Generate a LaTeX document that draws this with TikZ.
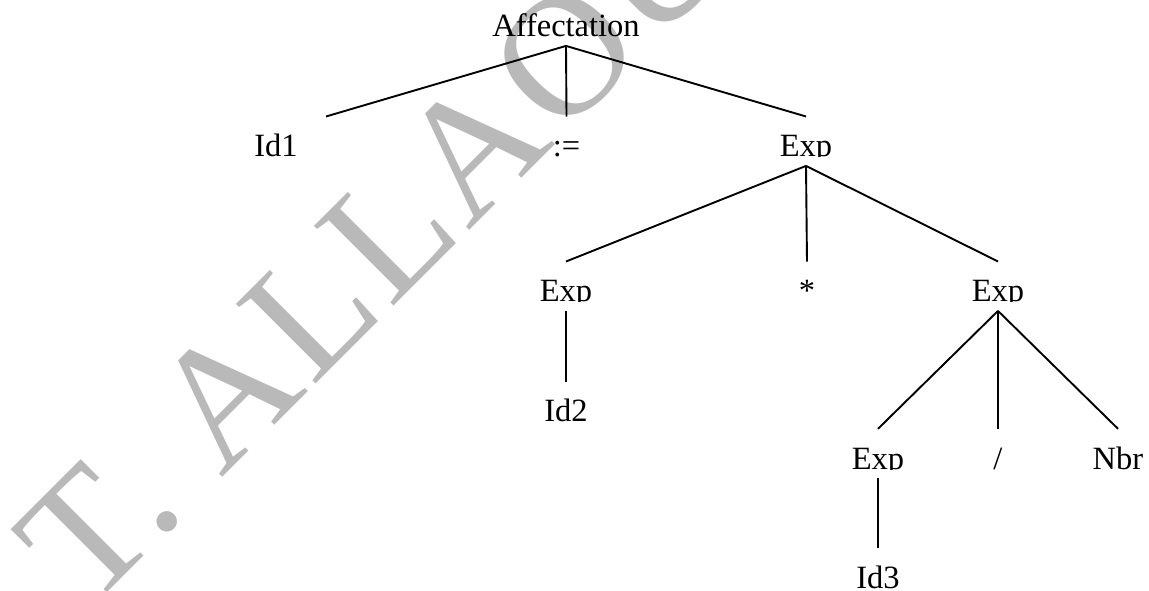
\documentclass[tikz,border=0pt]{standalone}
\usepackage{fontspec}
\setmainfont{Liberation Serif}
\newfontfamily\wmfont[LetterSpace=3.0]{Liberation Serif}
\usetikzlibrary{calc}
\definecolor{wmgray}{RGB}{185,185,185}
\tikzset{
  lbl/.style={inner sep=0pt, anchor=base, text height=40pt, text depth=9pt,
              font=\fontsize{32.5}{39}\selectfont},
  edge/.style={line width=1.9pt, black},
  watermark/.style={wmgray, rotate=45, anchor=base west, inner sep=0pt,
              font=\wmfont\fontsize{172}{172}\selectfont},
}
% "Exp" label whose descender is cut off at the baseline
\newcommand\expnode[2]{%
  \begin{scope}
    \clip ($(#2)+(-45,-45)$) rectangle ($(#2)+(45,0)$);
    \node[lbl] (#1) at (#2) {Exp};
  \end{scope}}
\begin{document}
\begin{tikzpicture}[x=1pt,y=-1pt]
\useasboundingbox (0,0) rectangle (1149,590);

% author watermark behind the tree
\node[watermark] (wm) at (88,612) {T. ALLAOUI};

% tree nodes (positions are baselines)
\node[lbl] (aff) at (566,36.7) {Affectation};
\node[lbl] (id1) at (276,156.7) {Id1};
\node[lbl] (asg) at (566.5,156.7) {:=};
\expnode{e1}{806,156.7}
\expnode{e2}{566,301.7}
\node[lbl] (star) at (807,301.7) {*};
\expnode{e3}{998,301.7}
\node[lbl] (id2) at (566,421.7) {Id2};
\expnode{e4}{878,469}
\node[lbl] (sl) at (998,469) {/};
\node[lbl] (nbr) at (1118,469) {Nbr};
\node[lbl] (id3) at (878,588) {Id3};

% branches
\draw[edge] (aff.south) -- ($(id1.north)+(50,0)$);
\draw[edge] (aff.south) -- (asg.north);
\draw[edge] (aff.south) -- (e1.north);
\draw[edge] (e1.south) -- (e2.north);
\draw[edge] (e1.south) -- (star.north);
\draw[edge] (e1.south) -- (e3.north);
\draw[edge] (e2.south) -- (id2.north);
\draw[edge] (e3.south) -- (e4.north);
\draw[edge] (e3.south) -- (sl.north);
\draw[edge] (e3.south) -- (nbr.north);
\draw[edge] (e4.south) -- (id3.north);
\end{tikzpicture}
\end{document}
